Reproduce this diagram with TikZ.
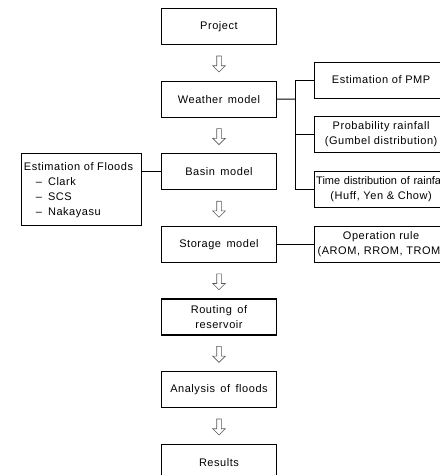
\documentclass[tikz,border=0pt]{standalone}
\usepackage{fontspec}
\setmainfont{Liberation Sans}[LetterSpace=5,WordSpace=1.5]
\newfontfamily\narrowfont{Liberation Sans}
\usetikzlibrary{calc,positioning,shapes.arrows}

\begin{document}
\begin{tikzpicture}[
      x=1pt,y=1pt,
      node distance=35.5pt and 36.5pt,
      every node/.style={font=\fontsize{11}{15}\selectfont},
      box/.style={rectangle,draw,line width=1.1pt,minimum width=115pt,minimum height=36pt,align=center,inner sep=1pt},
      side/.style={box,minimum width=134pt,text width=130pt,inner sep=2pt},
      down/.style={single arrow,shape border rotate=270,draw=black!65,line width=0.6pt,fill=white,minimum height=16pt,minimum width=12pt,inner sep=2pt,single arrow head extend=4pt},
      link/.style={line width=1.1pt}
    ]
    \useasboundingbox (0,0) rectangle (440,-475);
    \clip (0,0) rectangle (440,-475);
    \node[box,anchor=north] (project) at (219,-8) {Project};
    \node[box,below=of project] (weather) {Weather model};
    \node[box,below=of weather] (basin) {Basin model};
    \node[box,below=of basin] (storage) {Storage model};
    \node[box,below=of storage] (routing) {Routing of\\reservoir};
    \node[box,below=of routing] (analysis) {Analysis of floods};
    \node[box,below=of analysis] (results) {Results};
    \node[side,right=of storage] (oprule) {Operation rule\\(AROM, RROM, TROM)};
    \node[side,above=18pt of oprule] (timedist) {{\narrowfont Time distribution of rainfall}\\(Huff, Yen \& Chow)};
    \node[side,above=18pt of timedist] (probrain) {Probability rainfall\\(Gumbel distribution)};
    \node[side,above=17pt of probrain] (pmp) {Estimation of PMP};
    \node[box,minimum width=120pt,minimum height=72pt,text width=116pt,align=left,inner sep=2pt,anchor=north east] (floods) at ($(basin.north west)+(-18.5,0)$) {Estimation of Floods\\\hspace*{12pt}--\hspace{6pt}Clark\\\hspace*{12pt}--\hspace{6pt}SCS\\\hspace*{12pt}--\hspace{6pt}Nakayasu};
    \foreach \a/\b in {project/weather,weather/basin,basin/storage,storage/routing,routing/analysis,analysis/results}
      \node[down] (\a-\b) at ($(\a.south)!0.5!(\b.north)$) {};
    \coordinate (bus) at ($(weather.east)!0.5!(weather.east -| pmp.west)$);
    \draw[link] (weather.east) -- (bus);
    \draw[link] (pmp.west) -| (bus |- timedist.west) -- (timedist.west);
    \draw[link] (probrain.west) -- (bus |- probrain.west);
    \draw[link] (storage.east) -- (oprule.west);
    \draw[link] (basin.west) -- (floods.east |- basin.west);
  \end{tikzpicture}
\end{document}
